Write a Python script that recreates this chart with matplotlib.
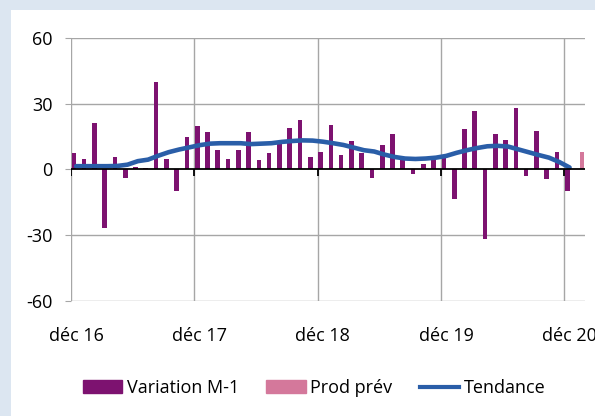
import numpy as np
import matplotlib
matplotlib.use("Agg")
import matplotlib.pyplot as plt
from matplotlib.patches import Rectangle, Patch
from matplotlib.lines import Line2D

plt.rcParams['font.family'] = ['Liberation Sans Narrow', 'Open Sans', 'DejaVu Sans']

# variation mensuelle (déc 16 -> déc 20), une valeur par mois
variation = [7.2, 4.9, 21.2, -26.8, 5.6, -3.8, 1.1, 0.5, 39.9, 4.9, -10.0, 14.8,
             19.6, 16.9, 8.7, 4.9, 8.7, 16.9, 4.4, 7.2, 11.4, 19.0, 22.4, 5.6,
             7.9, 20.4, 6.4, 12.8, 7.2, -3.8, 11.3, 16.3, 4.4, -2.0, 2.3, 4.4,
             5.6, -13.4, 18.3, 26.6, -31.7, 16.3, 13.2, 28.0, -3.0, 17.7, -4.6, 7.8,
             -10.0]
# prévision pour le mois suivant (janv 21)
prod_prev = [7.8]
# tendance lissée
tendance = [1.4, 1.4, 1.4, 1.4, 1.5, 2.1, 3.7, 4.4, 6.2, 7.8, 9.0, 10.0,
            11.0, 11.7, 11.9, 11.9, 11.9, 11.5, 11.7, 11.9, 12.5, 12.9, 13.2, 13.1,
            12.6, 11.9, 11.1, 9.9, 8.7, 8.1, 6.7, 5.6, 4.9, 4.7, 4.9, 5.3,
            6.1, 7.5, 8.7, 9.7, 10.5, 10.7, 10.4, 9.1, 7.8, 6.5, 5.3, 3.3,
            0.8]
tick_labels = ["déc 16", "déc 17", "déc 18", "déc 19", "déc 20"]
yticks = [-60, -30, 0, 30, 60]

n_cat = len(variation) + len(prod_prev)
c_purple = "#7d1270"
c_pink = "#d4789b"
c_blue = "#2a5ea8"
c_grid = "#a6a6a6"

fig = plt.figure(figsize=(5.95, 4.16), dpi=100, facecolor="#dce6f1")
fig.patches.append(Rectangle((11 / 595, 0), 1, (416 - 10) / 416,
                             transform=fig.transFigure, facecolor="white",
                             edgecolor="none", zorder=-10))

ax = fig.add_axes([71 / 595, (416 - 300.5) / 416, 514 / 595, 262.5 / 416])
ax.set_facecolor("none")

idx = np.arange(n_cat)
bw = 0.45
ax.bar(idx[:len(variation)] + 0.5 - bw / 2, variation, width=bw, color=c_purple, zorder=3)
ax.bar(idx[len(variation):] + 0.5 + bw / 2, prod_prev, width=bw, color=c_pink, zorder=3)
ax.plot(idx[:len(tendance)] + 0.5, tendance, color=c_blue, lw=3.3,
        solid_capstyle="round", zorder=4)

ax.set_xlim(0, n_cat)
ax.set_ylim(-60, 60)

# grille
for y in [-60, -30, 30, 60]:
    ax.axhline(y, color=c_grid, lw=1, zorder=1)
year_pos = idx[::12]
for x in year_pos:
    ax.axvline(x, color=c_grid, lw=1, zorder=1)
ax.axhline(0, color="black", lw=1.3, zorder=5)
ax.vlines(year_pos, -3, 0, color="black", lw=1.3, zorder=5)

for s in ax.spines.values():
    s.set_visible(False)

ax.set_yticks(yticks)
ax.set_yticklabels([str(v) for v in yticks])
ax.tick_params(axis="y", length=4.3, width=0.8, color=c_grid, pad=9, labelsize=13)
ax.set_xticks(year_pos + 0.5)
ax.set_xticklabels(tick_labels)
ax.tick_params(axis="x", length=0, pad=19, labelsize=13)

handles = [Patch(color=c_purple, label="Variation M-1"),
           Patch(color=c_pink, label="Prod prév"),
           Line2D([], [], color=c_blue, lw=3, label="Tendance")]
fig.legend(handles=handles, loc="center", bbox_to_anchor=(0.528, 0.067), ncol=3,
           frameon=False, fontsize=13, handlelength=2.2, handletextpad=0.25,
           columnspacing=1.5)

fig.savefig("out.png", dpi=100, facecolor=fig.get_facecolor())
